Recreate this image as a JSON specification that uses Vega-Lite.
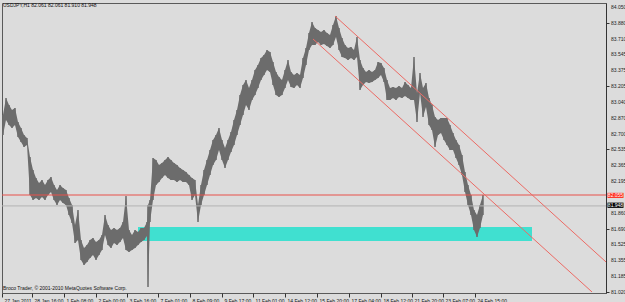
{
  "$schema": "https://vega.github.io/schema/vega-lite/v6.json",
  "width": 604,
  "height": 290,
  "autosize": {"type": "none"},
  "padding": {"left": 2, "top": 3, "right": 19, "bottom": 9},
  "background": "#dcdcdc",
  "config": {
    "view": {"stroke": "#5a5a5a", "strokeWidth": 1, "fill": "#dcdcdc"},
    "font": "Liberation Sans",
    "axis": {"labelOverlap": false, "labelFlush": false, "labelBound": false}
  },
  "datasets": {
    "bars": [
      {"t":1,"h":82.902,"l":82.689},{"t":4,"h":83.083,"l":82.849},{"t":7,"h":83.008,"l":82.795},{"t":10,"h":82.955,"l":82.764},
      {"t":13,"h":82.976,"l":82.795},{"t":16,"h":82.827,"l":82.668},{"t":19,"h":82.764,"l":82.615},{"t":22,"h":82.689,"l":82.562},
      {"t":25,"h":82.657,"l":82.583},{"t":28,"h":82.455,"l":82.051},{"t":31,"h":82.317,"l":81.998},{"t":34,"h":82.232,"l":82.019},
      {"t":37,"h":82.179,"l":81.998},{"t":40,"h":82.211,"l":82.030},{"t":43,"h":82.158,"l":81.998},{"t":46,"h":82.211,"l":82.051},
      {"t":49,"h":82.243,"l":82.083},{"t":52,"h":82.158,"l":81.998},{"t":55,"h":82.104,"l":81.945},{"t":58,"h":82.158,"l":81.998},
      {"t":61,"h":82.126,"l":81.966},{"t":64,"h":82.104,"l":81.945},{"t":67,"h":82.019,"l":81.839},{"t":70,"h":81.945,"l":81.754},
      {"t":73,"h":81.732,"l":81.541},{"t":76,"h":81.892,"l":81.573},{"t":79,"h":81.573,"l":81.360},{"t":82,"h":81.488,"l":81.307},
      {"t":85,"h":81.519,"l":81.339},{"t":88,"h":81.573,"l":81.381},{"t":91,"h":81.594,"l":81.413},{"t":94,"h":81.551,"l":81.360},
      {"t":97,"h":81.573,"l":81.413},{"t":100,"h":81.626,"l":81.466},{"t":103,"h":81.839,"l":81.626},{"t":106,"h":81.732,"l":81.519},
      {"t":109,"h":81.679,"l":81.488},{"t":112,"h":81.700,"l":81.541},{"t":115,"h":81.679,"l":81.519},{"t":118,"h":81.700,"l":81.551},
      {"t":121,"h":81.764,"l":81.594},{"t":124,"h":82.041,"l":81.466},{"t":127,"h":81.679,"l":81.445},{"t":130,"h":81.626,"l":81.466},
      {"t":133,"h":81.679,"l":81.488},{"t":136,"h":81.658,"l":81.519},{"t":139,"h":81.700,"l":81.551},{"t":142,"h":81.700,"l":81.573},
      {"t":145,"h":81.764,"l":81.615},{"t":146,"h":81.945,"l":81.073},{"t":148,"h":81.998,"l":81.764},{"t":151,"h":82.445,"l":81.998},
      {"t":154,"h":82.423,"l":82.158},{"t":157,"h":82.370,"l":82.189},{"t":160,"h":82.391,"l":82.232},{"t":163,"h":82.423,"l":82.264},
      {"t":166,"h":82.455,"l":82.232},{"t":169,"h":82.423,"l":82.211},{"t":172,"h":82.391,"l":82.211},{"t":175,"h":82.370,"l":82.189},
      {"t":178,"h":82.338,"l":82.211},{"t":181,"h":82.317,"l":82.189},{"t":184,"h":82.296,"l":82.189},{"t":187,"h":82.264,"l":82.158},
      {"t":190,"h":82.232,"l":81.998},{"t":193,"h":82.211,"l":82.051},{"t":196,"h":81.945,"l":81.764},{"t":199,"h":82.158,"l":81.945},
      {"t":202,"h":82.317,"l":82.051},{"t":205,"h":82.423,"l":82.158},{"t":208,"h":82.530,"l":82.264},{"t":211,"h":82.636,"l":82.370},
      {"t":214,"h":82.689,"l":82.423},{"t":217,"h":82.764,"l":82.530},{"t":220,"h":82.636,"l":82.423},{"t":223,"h":82.551,"l":82.338},
      {"t":226,"h":82.636,"l":82.423},{"t":229,"h":82.721,"l":82.508},{"t":232,"h":82.849,"l":82.583},{"t":235,"h":82.955,"l":82.689},
      {"t":238,"h":83.114,"l":82.795},{"t":241,"h":83.221,"l":82.902},{"t":244,"h":83.274,"l":83.008},{"t":247,"h":83.189,"l":82.955},
      {"t":250,"h":83.274,"l":83.061},{"t":253,"h":83.380,"l":83.114},{"t":256,"h":83.433,"l":83.189},{"t":259,"h":83.508,"l":83.274},
      {"t":262,"h":83.540,"l":83.327},{"t":265,"h":83.593,"l":83.380},{"t":268,"h":83.572,"l":83.359},{"t":271,"h":83.465,"l":83.221},
      {"t":274,"h":83.359,"l":83.114},{"t":277,"h":83.306,"l":83.093},{"t":280,"h":83.274,"l":83.114},{"t":283,"h":83.380,"l":83.189},
      {"t":286,"h":83.487,"l":83.274},{"t":289,"h":83.359,"l":83.199},{"t":292,"h":83.327,"l":83.189},{"t":295,"h":83.348,"l":83.221},
      {"t":298,"h":83.327,"l":83.189},{"t":301,"h":83.508,"l":83.295},{"t":304,"h":83.614,"l":83.433},{"t":307,"h":83.774,"l":83.593},
      {"t":310,"h":83.891,"l":83.646},{"t":313,"h":83.827,"l":83.646},{"t":316,"h":83.805,"l":83.678},{"t":319,"h":83.784,"l":83.646},
      {"t":322,"h":83.805,"l":83.657},{"t":325,"h":83.774,"l":83.635},{"t":328,"h":83.752,"l":83.614},{"t":331,"h":83.859,"l":83.646},
      {"t":334,"h":83.954,"l":83.731},{"t":337,"h":83.827,"l":83.593},{"t":340,"h":83.720,"l":83.518},{"t":343,"h":83.646,"l":83.508},
      {"t":346,"h":83.614,"l":83.487},{"t":349,"h":83.625,"l":83.508},{"t":352,"h":83.593,"l":83.487},{"t":355,"h":83.731,"l":83.518},
      {"t":358,"h":83.487,"l":83.168},{"t":361,"h":83.401,"l":83.221},{"t":364,"h":83.359,"l":83.253},{"t":367,"h":83.380,"l":83.242},
      {"t":370,"h":83.359,"l":83.253},{"t":373,"h":83.380,"l":83.274},{"t":376,"h":83.465,"l":83.295},{"t":379,"h":83.455,"l":83.327},
      {"t":382,"h":83.401,"l":83.253},{"t":385,"h":83.274,"l":83.061},{"t":388,"h":83.189,"l":83.061},{"t":391,"h":83.199,"l":83.083},
      {"t":394,"h":83.189,"l":83.061},{"t":397,"h":83.210,"l":83.093},{"t":400,"h":83.189,"l":83.083},{"t":403,"h":83.253,"l":83.104},
      {"t":406,"h":83.221,"l":83.083},{"t":409,"h":83.189,"l":83.061},{"t":412,"h":83.518,"l":83.061},{"t":415,"h":83.136,"l":82.827},
      {"t":418,"h":83.348,"l":83.136},{"t":421,"h":83.189,"l":82.881},{"t":424,"h":83.242,"l":82.987},{"t":427,"h":83.083,"l":82.795},
      {"t":430,"h":83.008,"l":82.742},{"t":433,"h":82.881,"l":82.562},{"t":436,"h":82.849,"l":82.689},{"t":439,"h":82.870,"l":82.710},
      {"t":442,"h":82.870,"l":82.636},{"t":445,"h":82.870,"l":82.583},{"t":448,"h":82.795,"l":82.530},{"t":451,"h":82.710,"l":82.530},
      {"t":454,"h":82.636,"l":82.445},{"t":457,"h":82.583,"l":82.370},{"t":460,"h":82.477,"l":82.264},{"t":463,"h":82.296,"l":82.083},
      {"t":466,"h":82.158,"l":81.945},{"t":469,"h":82.051,"l":81.839},{"t":472,"h":81.892,"l":81.679},{"t":475,"h":81.839,"l":81.605},
      {"t":478,"h":81.945,"l":81.700},{"t":481,"h":82.051,"l":81.839}
    ],
    "yticks": [
      {"v":81.020},{"v":81.185},{"v":81.355},{"v":81.525},{"v":81.690},{"v":81.860},{"v":82.195},{"v":82.365},{"v":82.535},
      {"v":82.700},{"v":82.870},{"v":83.040},{"v":83.205},{"v":83.375},{"v":83.545},{"v":83.710},{"v":83.880},{"v":84.050}
    ]
  },
  "layer": [
    {
      "data": {"values": [{"t1": 136, "t2": 530, "p1": 81.711, "p2": 81.562}]},
      "mark": {"type": "rect", "color": "#40e0d0", "opacity": 1},
      "encoding": {
        "x": {"field": "t1", "type": "quantitative", "scale": {"domain": [0, 604], "nice": false, "zero": false},
          "axis": {"orient": "bottom", "title": null, "grid": false, "domain": false,
            "values": [0, 30, 62, 94, 125, 156, 188, 220, 251, 283, 315, 347, 379, 410, 441, 473],
            "labelExpr": "['27 Jan 2011','28 Jan 16:00','1 Feb 08:00','2 Feb 00:00','3 Feb 16:00','7 Feb 01:00','8 Feb 09:00','9 Feb 17:00','11 Feb 01:00','14 Feb 12:00','15 Feb 20:00','17 Feb 04:00','18 Feb 12:00','21 Feb 20:00','23 Feb 07:00','24 Feb 15:00'][indexof([0,30,62,94,125,156,188,220,251,283,315,347,379,410,441,473], datum.value)]",
            "labelFontSize": 5, "labelColor": "#111", "labelAlign": "left", "labelBaseline": "top",
            "labelPadding": 1, "labelOffset": 2, "tickSize": 4, "tickColor": "#333", "labelFlush": false, "labelOverlap": false}},
        "x2": {"field": "t2"},
        "y": {"field": "p1", "type": "quantitative", "scale": {"domain": [81.009, 84.0925], "nice": false, "zero": false},
          "axis": {"orient": "right", "title": null, "grid": false, "domain": true, "domainColor": "#333",
            "values": [81.020, 81.185, 81.355, 81.525, 81.690, 81.860, 82.195, 82.365, 82.535, 82.700, 82.870, 83.040, 83.205, 83.375, 83.545, 83.710, 83.880, 84.050],
            "labels": false, "tickSize": 3, "tickColor": "#333"}},
        "y2": {"field": "p2"}
      }
    },
    {
      "data": {"name": "bars"},
      "mark": {"type": "area", "color": "#6c6c6c", "interpolate": "linear", "opacity": 1},
      "encoding": {
        "x": {"field": "t", "type": "quantitative"},
        "y": {"field": "h", "type": "quantitative"},
        "y2": {"field": "l"}
      }
    },
    {
      "data": {"name": "bars"},
      "mark": {"type": "rule", "color": "#6c6c6c", "strokeWidth": 1.5},
      "encoding": {
        "x": {"field": "t", "type": "quantitative"},
        "y": {"field": "h", "type": "quantitative"},
        "y2": {"field": "l"}
      }
    },
    {
      "data": {"values": [{"a": 0, "b": 604, "p": 81.935, "c": "gray"}, {"a": 0, "b": 604, "p": 82.051, "c": "red"}]},
      "mark": {"type": "rule", "strokeWidth": 1},
      "encoding": {
        "x": {"field": "a", "type": "quantitative"},
        "x2": {"field": "b"},
        "y": {"field": "p", "type": "quantitative"},
        "color": {"field": "c", "type": "nominal", "scale": {"domain": ["gray", "red", "chan"], "range": ["#b4b4b4", "#e8504a", "#ec6a64"]}, "legend": null}
      }
    },
    {
      "data": {"values": [{"a": 333, "b": 604, "pa": 83.954, "pb": 81.339, "c": "chan"}, {"a": 311, "b": 590, "pa": 83.710, "pb": 81.020, "c": "chan"}]},
      "mark": {"type": "rule", "strokeWidth": 1},
      "encoding": {
        "x": {"field": "a", "type": "quantitative"},
        "x2": {"field": "b"},
        "y": {"field": "pa", "type": "quantitative"},
        "y2": {"field": "pb"},
        "color": {"field": "c", "type": "nominal", "legend": null}
      }
    },
    {
      "data": {"name": "yticks"},
      "mark": {"type": "text", "color": "#222222", "fontSize": 5, "align": "left", "baseline": "middle", "dx": 0},
      "encoding": {
        "x": {"datum": 609, "type": "quantitative"},
        "y": {"field": "v", "type": "quantitative"},
        "text": {"field": "v", "type": "quantitative", "format": ".3f"}
      }
    },
    {
      "data": {"values": [{"a": 605.5, "b": 621.5, "p1": 82.074, "p2": 82.020, "k": "red"}, {"a": 605.5, "b": 621.5, "p1": 81.970, "p2": 81.914, "k": "black"}]},
      "mark": {"type": "rect"},
      "encoding": {
        "x": {"field": "a", "type": "quantitative"},
        "x2": {"field": "b"},
        "y": {"field": "p1", "type": "quantitative"},
        "y2": {"field": "p2"},
        "fill": {"field": "k", "type": "nominal", "scale": {"domain": ["red", "black"], "range": ["#ff2a1a", "#000000"]}, "legend": null}
      }
    },
    {
      "data": {"values": [{"a": 613.5, "p": 82.047, "s": "82.055"}, {"a": 613.5, "p": 81.942, "s": "81.948"}]},
      "mark": {"type": "text", "color": "#ffffff", "fontSize": 5, "align": "center", "baseline": "middle"},
      "encoding": {
        "x": {"field": "a", "type": "quantitative"},
        "y": {"field": "p", "type": "quantitative"},
        "text": {"field": "s"}
      }
    },
    {
      "data": {"values": [{"a": 1, "p": 84.068, "s": "USDJPY,H1  82.061 82.061 81.910 81.948"}, {"a": 1, "p": 81.060, "s": "Broco Trader, © 2001-2010 MetaQuotes Software Corp."}]},
      "mark": {"type": "text", "color": "#111111", "fontSize": 5, "align": "left", "baseline": "middle"},
      "encoding": {
        "x": {"field": "a", "type": "quantitative"},
        "y": {"field": "p", "type": "quantitative"},
        "text": {"field": "s"}
      }
    }
  ]
}
